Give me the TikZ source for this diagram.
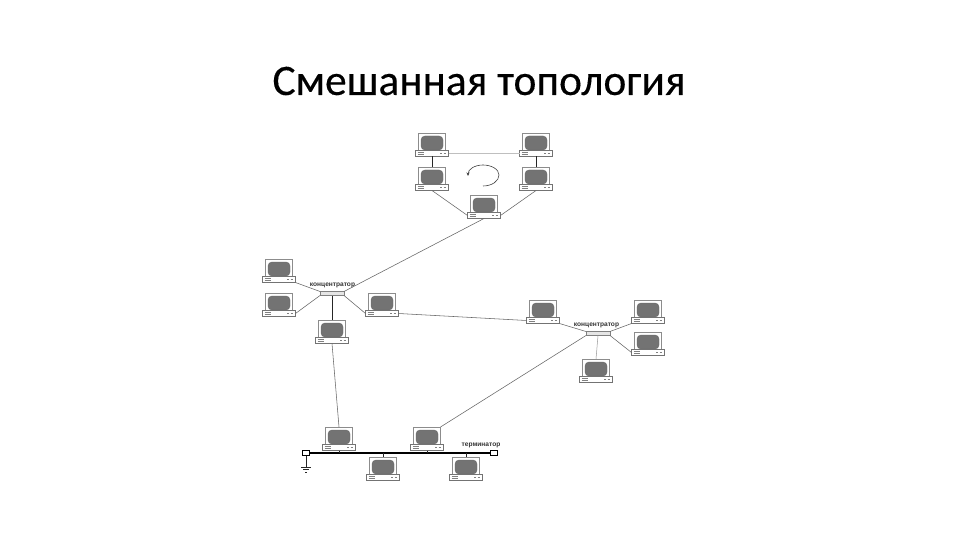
\documentclass[tikz,border=0pt]{standalone}
\usepackage{fontspec}
\usetikzlibrary{arrows.meta}
\setmainfont{Carlito}
\newfontfamily\labelfont{Liberation Sans}
\newfontfamily\titlefont[FakeBold=0.25]{Carlito}
\tikzset{
  x=1pt,y=-1pt,
  pcframe/.style={draw=black!45,fill=white,line width=.5pt,minimum width=27pt,minimum height=19pt,inner sep=0,outer sep=0},
  pcscreen/.style={draw=black!60,fill=black!55,rounded corners=4pt,line width=.4pt,minimum width=22pt,minimum height=14pt,inner sep=0,outer sep=0},
  pcbase/.style={draw=black!55,fill=white,line width=.5pt,minimum width=33pt,minimum height=6pt,inner sep=0,outer sep=0},
  pctick/.style={draw=black!50,line width=.5pt},
  hubbox/.style={draw=black!50,fill=black!10,line width=.4pt,minimum width=24pt,minimum height=4pt,inner sep=0,outer sep=0},
  netlink/.style={draw=black!60,line width=.55pt},
  darklink/.style={draw=black!85,line width=.7pt},
  faintlink/.style={draw=black!25,line width=.5pt},
  nettag/.style={font=\labelfont\bfseries\fontsize{6.6}{7}\selectfont,inner sep=0,text=black!80},
  termbox/.style={draw=black,fill=white,line width=.8pt,minimum width=7pt,minimum height=5pt,inner sep=0,outer sep=0},
}
\newcommand{\pc}[3]{%
  \node[pcframe] (#1f) at (#2,#3-.5) {};
  \node[pcscreen] (#1s) at (#2,#3) {};
  \node[pcbase] (#1) at (#2,#3+10.5) {};
  \draw[pctick] (#2-14.5,#3+9.5) -- ++(6,0) (#2-14.5,#3+11.5) -- ++(6,0) (#2+8,#3+10) -- ++(2,0) (#2+11.5,#3+10) -- ++(2,0);
}
\begin{document}
\begin{tikzpicture}
\useasboundingbox (0,0) rectangle (960,540);
\fill[white] (0,0) rectangle (960,540);
\node[font=\titlefont\fontsize{43.5}{48}\selectfont,inner sep=0] (title) at (479,81) {Смешанная топология};
% ring
\pc{ra}{432}{143}\pc{rb}{536}{143}\pc{rc}{432}{177}\pc{rd}{536}{177}\pc{re}{484}{205}
\draw[faintlink] (ra.east) -- (rb.west);
\draw[darklink] (ra.south) -- (rcf.north);
\draw[darklink] (rb.south) -- (rdf.north);
\draw[netlink] (rc.south) -- (re.west);
\draw[netlink] (rd.south) -- (re.east);
\coordinate (rot1) at (483,186);
\coordinate (rot2) at (468,176);
\draw[draw=black!75,line width=.6pt,-{Stealth[length=3.5pt,width=3pt]}] (rot1) .. controls (492,186) and (499,181) .. (499,175) .. controls (499,169) and (491,165) .. (483,165) .. controls (475,165) and (468,169) .. (rot2);
% left hub
\node[hubbox] (hl) at (332,293.5) {};
\node[nettag] (hlt) at (332.5,285) {концентратор};
\pc{la}{279}{269}\pc{lb}{279}{303}\pc{lc}{382}{303}\pc{ld}{332}{330}
\draw[netlink] (re.south) -- (hl.north east);
\draw[netlink] (la.south east) -- (hl.north west);
\draw[netlink] (lb.east) -- (hl.south west);
\draw[netlink] (hl.south east) -- (lc.west);
\draw[darklink] (hl.south) -- (ldf.north);
% right hub
\node[hubbox] (hr) at (598,333.5) {};
\node[nettag] (hrt) at (596.5,325) {концентратор};
\pc{ma}{543}{310}\pc{mb}{648}{310}\pc{mc}{648}{342}\pc{md}{596}{369}
\draw[netlink] (lc.east) -- (ma.west);
\draw[netlink] (ma.south east) -- (hr.north west);
\draw[netlink] (mb.south west) -- (hr.north east);
\draw[netlink] (hr.south east) -- (mc.west);
\draw[draw=black!40,line width=.5pt] (hr.south) -- (mdf.north);
% bus
\node[termbox] (tl) at (306,453) {};
\node[termbox] (tr) at (494,453) {};
\node[nettag] (trt) at (481,445) {терминатор};
\draw[draw=black,line width=1.1pt] (tl.east) -- (tr.west);
\pc{ba}{339}{437}\pc{bb}{427}{437}\pc{bc}{383}{467}\pc{bd}{466}{467}
\coordinate (ja) at (339,453);\coordinate (jb) at (427,453);
\coordinate (jc) at (383,453);\coordinate (jd) at (466,453);
\draw[darklink] (ba.south) -- (ja) (bb.south) -- (jb) (jc) -- (bcf.north) (jd) -- (bdf.north);
\draw[netlink] (ld.south) -- (baf.north);
\draw[netlink] (hr.south west) -- (bbf.north east);
% ground
\coordinate (g0) at (306,467);
\draw[darklink] (tl.south) -- (g0);
\draw[darklink] (301,467) -- (311,467) (303,469.5) -- (309,469.5) (305,472) -- (307,472);
\end{tikzpicture}
\end{document}
